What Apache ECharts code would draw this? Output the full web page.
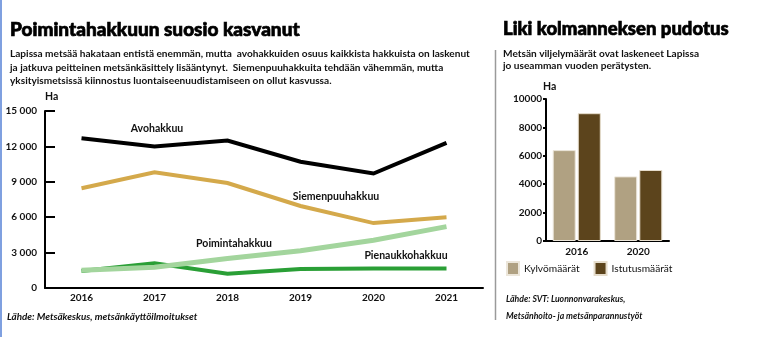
<!DOCTYPE html>
<html><head><meta charset="utf-8">
<script src="https://cdn.jsdelivr.net/npm/echarts@6/dist/echarts.min.js"></script>
<style>html,body{margin:0;padding:0;background:#fff}#c{width:757px;height:337px}</style>
</head><body><div id="c"></div>
<script>
// ---- data ----
const years = ['2016', '2017', '2018', '2019', '2020', '2021'];
const avohakkuu = [12700, 12000, 12500, 10700, 9700, 12300];
const siemenpuuhakkuu = [8450, 9800, 8900, 6950, 5500, 6000];
const poimintahakkuu = [1500, 1750, 2500, 3150, 4050, 5200];
const pienaukkohakkuu = [1450, 2100, 1200, 1600, 1650, 1650];
const lineSeriesNames = ['Avohakkuu', 'Siemenpuuhakkuu', 'Poimintahakkuu', 'Pienaukkohakkuu'];

const barYears = ['2016', '2020'];
const kylvomaarat = [6400, 4550];
const istutusmaarat = [9000, 5000];
const barSeriesNames = ['Kylvömäärät', 'Istutusmäärät'];

const leftTitle = 'Poimintahakkuun suosio kasvanut';
const leftSub = 'Lapissa metsää hakataan entistä enemmän, mutta  avohakkuiden osuus kaikkista hakkuista on laskenut\nja jatkuva peitteinen metsänkäsittely lisääntynyt.  Siemenpuuhakkuita tehdään vähemmän, mutta\nyksityismetsissä kiinnostus luontaiseenuudistamiseen on ollut kasvussa.';
const leftSource = 'Lähde: Metsäkeskus, metsänkäyttöilmoitukset';
const rightTitle = 'Liki kolmanneksen pudotus';
const rightSub = 'Metsän viljelymäärät ovat laskeneet Lapissa\njo useamman vuoden perätysten.';
const rightSource = 'Lähde: SVT: Luonnonvarakeskus,\nMetsänhoito- ja metsänparannustyöt';

const F = 'Lato, "Open Sans", sans-serif';
const chart = echarts.init(document.getElementById('c'), null, {renderer: 'canvas'});

const fmtSpace = v => String(v).replace(/\B(?=(\d{3})+(?!\d))/g, ' ');
const fmtPlain = v => String(v);
const lineColors = ['#000000', '#d4a94b', '#a3d59d', '#2a9f36'];
const lineData = [avohakkuu, siemenpuuhakkuu, poimintahakkuu, pienaukkohakkuu];
const lineWidths = [4, 4, 5, 4];
const drawOrder = [3, 2, 1, 0];

const labelStyle = {fontFamily: F, fontWeight: 'bold', fontSize: 10.5, fill: '#111', textAlign: 'center', textVerticalAlign: 'middle'};
const titleStyle = {fontFamily: F, fontWeight: 900, fontSize: 19, color: '#000', textBorderColor: '#000', textBorderWidth: 0.7};

chart.setOption({
  animation: false,
  title: [
    {text: leftTitle, left: 10, top: 20, padding: 0, textStyle: titleStyle},
    {text: leftSub, left: 10, top: 47, padding: 0, textStyle: {fontFamily: F, fontWeight: 'bold', fontSize: 10.1, lineHeight: 13.6, color: '#111'}},
    {text: leftSource, left: 7, top: 312, padding: 0, textStyle: {fontFamily: F, fontStyle: 'italic', fontWeight: 'bold', fontSize: 9.8, color: '#111'}},
    {text: rightTitle, left: 503, top: 20, padding: 0, textStyle: Object.assign({}, titleStyle, {fontSize: 18.5})},
    {text: rightSub, left: 503, top: 47, padding: 0, textStyle: {fontFamily: F, fontWeight: 'bold', fontSize: 10.1, lineHeight: 12.5, color: '#111'}},
    {text: rightSource, left: 506, top: 291, padding: 0, textStyle: {fontFamily: '"Liberation Sans Narrow", ' + F, fontStyle: 'italic', fontSize: 8.7, lineHeight: 17, color: '#111'}}
  ],
  grid: [
    {left: 45, top: 111, width: 438, height: 177},
    {left: 546, top: 99, width: 123, height: 142}
  ],
  xAxis: [
    {gridIndex: 0, type: 'category', data: years, boundaryGap: true,
     axisLine: {lineStyle: {color: '#000', width: 2}},
     axisTick: {inside: true, length: 5, lineStyle: {color: '#000', width: 2}},
     axisLabel: {margin: 5, fontFamily: F, fontWeight: 'bold', fontSize: 10, color: '#111'}},
    {gridIndex: 1, type: 'category', data: barYears, boundaryGap: true,
     axisLine: {lineStyle: {color: '#000', width: 2}},
     axisTick: {inside: true, length: 4, lineStyle: {color: '#000', width: 2}},
     axisLabel: {margin: 6, fontFamily: F, fontWeight: 'bold', fontSize: 10, color: '#111'}}
  ],
  yAxis: [
    {gridIndex: 0, type: 'value', min: 0, max: 15000, interval: 3000,
     name: 'Ha', nameLocation: 'end', nameGap: 9,
     nameTextStyle: {align: 'left', fontFamily: F, fontWeight: 'bold', fontSize: 10.5, color: '#111'},
     axisLine: {show: true, lineStyle: {color: '#000', width: 2}},
     axisTick: {show: true, inside: true, length: 10, lineStyle: {color: '#000', width: 2}},
     splitLine: {show: false},
     axisLabel: {margin: 8, formatter: fmtSpace, fontFamily: F, fontWeight: 'bold', fontSize: 10, color: '#111'}},
    {gridIndex: 1, type: 'value', min: 0, max: 10000, interval: 2000,
     name: 'Ha', nameLocation: 'end', nameGap: 7,
     nameTextStyle: {align: 'left', padding: [0, 0, 0, -3], fontFamily: F, fontWeight: 'bold', fontSize: 10.5, color: '#111'},
     axisLine: {show: true, lineStyle: {color: '#000', width: 2}},
     axisTick: {show: true, inside: false, length: 3, lineStyle: {color: '#000', width: 2}},
     splitLine: {show: false},
     axisLabel: {margin: 4, formatter: fmtPlain, fontFamily: F, fontWeight: 'bold', fontSize: 10, color: '#111'}}
  ],
  legend: {
    data: barSeriesNames, left: 506, top: 261, padding: 0, icon: 'rect', itemWidth: 12, itemHeight: 13, itemGap: 14,
    textStyle: {fontFamily: F, fontSize: 10.2, color: '#111'}
  },
  series: drawOrder.map(i => ({
    name: lineSeriesNames[i], type: 'line', xAxisIndex: 0, yAxisIndex: 0,
    data: lineData[i], symbol: 'none', smooth: false,
    lineStyle: {color: lineColors[i], width: lineWidths[i], cap: 'butt', join: 'miter'},
    itemStyle: {color: lineColors[i]}, z: 2
  })).concat([
    {name: barSeriesNames[0], type: 'bar', xAxisIndex: 1, yAxisIndex: 1, data: kylvomaarat,
     barWidth: 23, barGap: '9%', itemStyle: {color: '#b0a182', borderColor: '#ece6da', borderWidth: 1}},
    {name: barSeriesNames[1], type: 'bar', xAxisIndex: 1, yAxisIndex: 1, data: istutusmaarat,
     barWidth: 23, barGap: '9%', itemStyle: {color: '#5c441c', borderColor: '#e6ddcc', borderWidth: 1}}
  ]),
  graphic: [
    {type: 'rect', left: 0, top: 0, shape: {width: 2, height: 337}, style: {fill: '#7fa0e0'}},
    {type: 'line', shape: {x1: 495.5, y1: 50, x2: 495.5, y2: 320}, style: {stroke: '#9a9a9a', lineWidth: 1.5}},
    {type: 'text', x: 157, y: 129, style: Object.assign({text: lineSeriesNames[0]}, labelStyle)},
    {type: 'text', x: 336, y: 197, style: Object.assign({text: lineSeriesNames[1]}, labelStyle)},
    {type: 'text', x: 234, y: 244, style: Object.assign({text: lineSeriesNames[2]}, labelStyle)},
    {type: 'text', x: 406, y: 256, style: Object.assign({text: lineSeriesNames[3]}, labelStyle)}
  ]
});
</script></body></html>
